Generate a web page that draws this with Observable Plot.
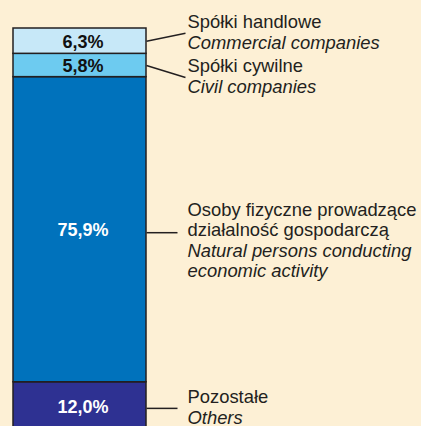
<!DOCTYPE html>
<html><head><meta charset="utf-8">
<script src="https://cdn.jsdelivr.net/npm/d3@7"></script>
<script src="https://cdn.jsdelivr.net/npm/@observablehq/plot@0.6"></script>
<style>html,body{margin:0;padding:0;background:#fdf0d5;overflow:hidden}</style>
</head><body><div id="chart"></div>
<script>
// Data (bottom to top of the stacked bar)
const categories = ["Pozostałe", "Osoby fizyczne prowadzące działalność gospodarczą", "Spółki cywilne", "Spółki handlowe"];
const shares = [12.0, 75.9, 5.8, 6.3];
const shareLabels = ["12,0%", "75,9%", "5,8%", "6,3%"];
const labelsPL = ["Pozostałe", "Osoby fizyczne prowadzące\ndziałalność gospodarczą", "Spółki cywilne", "Spółki handlowe"];
const labelsEN = ["Others", "Natural persons conducting\neconomic activity", "Civil companies", "Commercial companies"];
const colors = ["#2e3192", "#0072bc", "#6dcbf0", "#c7e8f8"];
const darkText = [false, false, true, true];

// Layout
const W = 421, H = 426;
const xRange = [13, 146], yRange = [430, 28];
const xs = d3.scaleLinear([0, 1], xRange);
const ys = d3.scaleLinear([0, 100], yRange);
const leaderNudge = [2, 3, 12, -8]; // px spread of label anchors
const ink = "#231f20";
const labelSize = 18.4;

const data = categories.map((c, i) => ({cat: c, value: shares[i], label: shareLabels[i], dark: darkText[i]}));
let acc = 0;
const rows = data.map((d, i) => {
  const y1 = acc, y2 = acc + d.value; acc = y2;
  const mid = (y1 + y2) / 2;
  const midPx = ys(mid);
  const endPx = midPx + leaderNudge[i];
  const horizontal = Math.abs(leaderNudge[i]) < 5;
  const startPx = horizontal ? endPx : midPx;
  const nPL = labelsPL[i].split("\n").length;
  const splitPx = endPx + (nPL - 1) * 8.5;
  return {
    ...d, mid,
    ly1: ys.invert(startPx), ly2: ys.invert(endPx),
    lx2: xs.invert(horizontal ? 177 : 185),
    ty: ys.invert(splitPx),
    pl: labelsPL[i], en: labelsEN[i]
  };
});
const labelX = xs.invert(187);

const chart = Plot.plot({
  width: W, height: H,
  marginTop: 0, marginRight: 0, marginBottom: 0, marginLeft: 0,
  x: {domain: [0, 1], range: xRange, axis: null},
  y: {domain: [0, 100], range: yRange, axis: null},
  color: {domain: categories, range: colors},
  style: {background: "transparent", fontFamily: "'Liberation Sans', Arial, sans-serif", overflow: "hidden"},
  marks: [
    Plot.rectY(data, {x1: 0, x2: 1, y: "value", fill: "cat", stroke: ink, strokeWidth: 1.5}),
    Plot.text(rows.filter(d => d.dark), {x: 0.5, y: "mid", text: "label", fill: "#111", fontSize: 18, fontWeight: "bold", dx: 3, dy: 1}),
    Plot.text(rows.filter(d => !d.dark), {x: 0.5, y: "mid", text: "label", fill: "#ffffff", fontSize: 18, fontWeight: "bold", dx: 3, dy: 1}),
    Plot.link(rows, {x1: 1, y1: "ly1", x2: "lx2", y2: "ly2", stroke: ink, strokeWidth: 1.5}),
    Plot.text(rows, {x: labelX, y: "ty", text: "pl", textAnchor: "start", lineAnchor: "bottom", lineHeight: 1.1, fontSize: labelSize, fill: ink, dy: -5}),
    Plot.text(rows, {x: labelX, y: "ty", text: "en", textAnchor: "start", lineAnchor: "top", lineHeight: 1.1, fontSize: labelSize, fontStyle: "italic", fill: ink, dy: 1.6})
  ]
});
document.getElementById("chart").appendChild(chart);
</script>
</body></html>
